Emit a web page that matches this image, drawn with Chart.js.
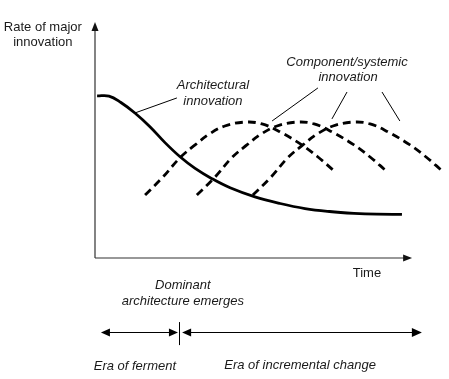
<!DOCTYPE html>
<html>
<head>
<meta charset="utf-8">
<script src="https://cdn.jsdelivr.net/npm/chart.js@4/dist/chart.umd.min.js"></script>
<style>
html,body{margin:0;padding:0;background:#fff;}
#wrap{width:449px;height:379px;position:relative;}
</style>
</head>
<body>
<div id="wrap"><canvas id="c"></canvas></div>
<script>
// Time axis values (arbitrary units 0..100) and rate of major innovation (0..100)
const archTime = [0.6, 4.0, 7.4, 11.4, 15.7, 20.0, 24.3, 28.6, 33.4, 38.6, 45.7, 52.9, 60.0, 67.0, 74.0, 80.5, 87.7];
const archRate = [71.1, 71.0, 68.2, 63.6, 57.6, 50.6, 44.4, 39.3, 34.8, 30.8, 26.8, 23.9, 21.7, 20.4, 19.6, 19.2, 19.1];

const comp1Time = [14.3, 19.4, 24.3, 28.6, 32.9, 37.1, 42.9, 47.7, 52.9, 59.1, 63.7, 68.0];
const comp2Time = [29.1, 34.3, 39.1, 43.4, 47.7, 52.0, 57.7, 62.6, 67.7, 74.0, 78.6, 82.9];
const comp3Time = [45.1, 50.3, 55.1, 59.4, 63.7, 68.0, 73.7, 78.6, 83.7, 90.0, 94.6, 98.9];
const compRate1 = [27.6, 35.5, 44.0, 49.6, 54.6, 57.9, 59.6, 58.8, 55.3, 49.6, 44.3, 38.6];
const compRate2 = [27.6, 35.5, 44.0, 49.6, 54.6, 57.9, 59.6, 58.8, 55.3, 49.6, 44.3, 38.6];
const compRate3 = [27.6, 35.5, 44.0, 49.6, 54.6, 57.9, 59.6, 58.8, 55.3, 49.6, 44.3, 38.6];

// Leader lines for labels: [x1, y1, x2, y2]
const leaderLines = [
  [11.4, 63.6, 23.4, 70.2],
  [63.7, 74.6, 50.6, 60.1],
  [72.0, 72.8, 67.7, 61.0],
  [82.0, 72.8, 87.1, 60.1]
];

// Text labels: [text, x, y, italic]
const labels = [
  ["Rate of major", -14.9, 101.3, false],
  ["innovation", -14.9, 94.5, false],
  ["Architectural", 33.7, 75.9, true],
  ["innovation", 33.7, 68.9, true],
  ["Component/systemic", 72.0, 86.0, true],
  ["innovation", 72.3, 79.4, true],
  ["Time", 77.7, -6.6, false],
  ["Dominant", 25.1, -11.8, true],
  ["architecture emerges", 25.1, -18.9, true],
  ["Era of ferment", 11.4, -47.4, true],
  ["Era of incremental change", 58.6, -46.9, true]
];

// Axes and era arrows
const yAxisTop = 103.5;
const xAxisEnd = 90.6;
const eraRow = -32.5;
const eraSplit = 24.0;
const eraFerment = [1.7, 23.7];
const eraIncremental = [24.9, 93.4];
const eraTick = [-28.1, -38.2];

function pts(xs, ys){ return xs.map((x,i)=>({x:x, y:ys[i]})); }

const lineCommon = {pointRadius:0, borderColor:'#000', fill:false, tension:0.4, borderCapStyle:'butt'};
const datasets = [
  Object.assign({data:pts(archTime, archRate), borderWidth:2.8}, lineCommon),
  Object.assign({data:pts(comp1Time, compRate1), borderWidth:2.8, borderDash:[8,5]}, lineCommon),
  Object.assign({data:pts(comp2Time, compRate2), borderWidth:2.8, borderDash:[8,5]}, lineCommon),
  Object.assign({data:pts(comp3Time, compRate3), borderWidth:2.8, borderDash:[8,5]}, lineCommon)
];
leaderLines.forEach(l=>{
  datasets.push({data:[{x:l[0],y:l[1]},{x:l[2],y:l[3]}], borderColor:'#000', borderWidth:1, pointRadius:0, tension:0});
});

function arrowHead(ctx, x, y, dir, len, half){
  ctx.beginPath();
  if(dir==='up'){ ctx.moveTo(x,y); ctx.lineTo(x-half,y+len); ctx.lineTo(x+half,y+len); }
  else if(dir==='right'){ ctx.moveTo(x,y); ctx.lineTo(x-len,y-half); ctx.lineTo(x-len,y+half); }
  else if(dir==='left'){ ctx.moveTo(x,y); ctx.lineTo(x+len,y-half); ctx.lineTo(x+len,y+half); }
  ctx.closePath(); ctx.fill();
}

const decor = {
  id:'decor',
  afterDatasetsDraw(chart){
    const ctx = chart.ctx, xs = chart.scales.x, ys = chart.scales.y;
    const X = v=>xs.getPixelForValue(v), Y = v=>ys.getPixelForValue(v);
    ctx.save();
    // axes
    ctx.strokeStyle = '#333'; ctx.fillStyle = '#111'; ctx.lineWidth = 1.2;
    ctx.beginPath();
    ctx.moveTo(X(0), Y(0)); ctx.lineTo(X(0), Y(yAxisTop)+8);
    ctx.moveTo(X(0), Y(0)); ctx.lineTo(X(xAxisEnd)-8, Y(0));
    ctx.stroke();
    arrowHead(ctx, X(0), Y(yAxisTop), 'up', 9, 3.5);
    arrowHead(ctx, X(xAxisEnd), Y(0), 'right', 9, 3.5);
    // era arrows
    ctx.strokeStyle = '#000'; ctx.fillStyle = '#000'; ctx.lineWidth = 1;
    const ry = Math.round(Y(eraRow))+0.5;
    ctx.beginPath();
    ctx.moveTo(X(eraFerment[0])+8, ry); ctx.lineTo(X(eraFerment[1])-8, ry);
    ctx.moveTo(X(eraIncremental[0])+8, ry); ctx.lineTo(X(eraIncremental[1])-8, ry);
    const tx = Math.round(X(eraSplit))+0.5;
    ctx.moveTo(tx, Y(eraTick[0])); ctx.lineTo(tx, Y(eraTick[1]));
    ctx.stroke();
    arrowHead(ctx, X(eraFerment[0]), ry, 'left', 9, 4);
    arrowHead(ctx, X(eraFerment[1]), ry, 'right', 9, 4);
    arrowHead(ctx, X(eraIncremental[0]), ry, 'left', 9, 4);
    arrowHead(ctx, X(eraIncremental[1]), ry, 'right', 10, 4.5);
    // labels
    ctx.fillStyle = '#1a1a1a'; ctx.textAlign = 'center'; ctx.textBaseline = 'middle';
    labels.forEach(l=>{
      ctx.font = (l[3]?'italic ':'') + '13px "Liberation Sans", Arial, sans-serif';
      ctx.fillText(l[0], X(l[1]), Y(l[2]));
    });
    ctx.restore();
  }
};

new Chart(document.getElementById('c'), {
  type:'line',
  data:{datasets:datasets},
  options:{
    responsive:true, maintainAspectRatio:false, animation:false,
    layout:{padding:{left:95, right:4, top:30, bottom:121}},
    plugins:{legend:{display:false}, tooltip:{enabled:false}},
    scales:{
      x:{type:'linear', min:0, max:100, display:false},
      y:{type:'linear', min:0, max:100, display:false}
    },
    elements:{line:{borderJoinStyle:'round'}},
    clip:false
  },
  plugins:[decor]
});
</script>
</body>
</html>
